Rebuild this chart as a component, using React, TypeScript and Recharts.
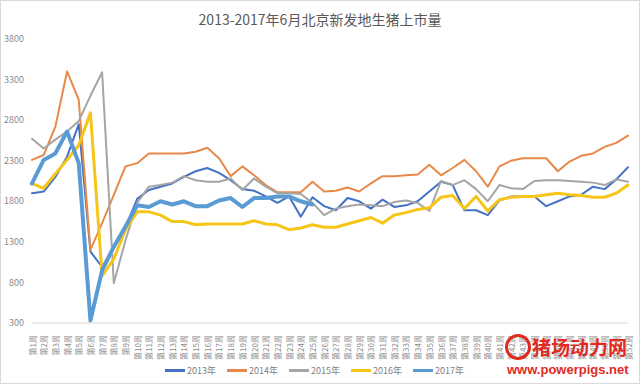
import React from "react";
import { LineChart, Line, XAxis, YAxis, Legend } from "recharts";

const weeks = [
  "第1周", "第2周", "第3周", "第4周", "第5周", "第6周", "第7周", "第8周", "第9周", "第10周",
  "第11周", "第12周", "第13周", "第14周", "第15周", "第16周", "第17周", "第18周", "第19周", "第20周",
  "第21周", "第22周", "第23周", "第24周", "第25周", "第26周", "第27周", "第28周", "第29周", "第30周",
  "第31周", "第32周", "第33周", "第34周", "第35周", "第36周", "第37周", "第38周", "第39周", "第40周",
  "第41周", "第42周", "第43周", "第44周", "第45周", "第46周", "第47周", "第48周", "第49周", "第50周",
  "第51周", "第52周",
];

const yTicks = [300, 800, 1300, 1800, 2300, 2800, 3300, 3800];

const s2013 = [
  1900, 1920, 2100, 2350, 2750, 1180, 990, 1220, 1480, 1830,
  1940, 1980, 2020, 2100, 2170, 2210, 2150, 2060, 1950, 1930,
  1860, 1780, 1860, 1610, 1850, 1740, 1690, 1840, 1800, 1710,
  1820, 1730, 1750, 1800, 1920, 2040, 2000, 1690, 1690, 1630,
  1810, 1860, 1860, 1860, 1740, 1800, 1860, 1880, 1980, 1950,
  2070, 2220,
];

const s2014 = [
  2310, 2370, 2720, 3400, 3050, 1200, 1530, 1880, 2230, 2270,
  2390, 2390, 2390, 2390, 2410, 2460, 2330, 2110, 2230, 2120,
  2000, 1910, 1910, 1910, 2040, 1920, 1930, 1970, 1920, 2020,
  2110, 2110, 2120, 2130, 2250, 2120, 2210, 2310, 2170, 1980,
  2230, 2300, 2330, 2330, 2330, 2170, 2290, 2360, 2390, 2470,
  2520, 2610,
];

const s2015 = [
  2570, 2450, 2560, 2660, 2790, 3100, 3390, 790, 1320, 1780,
  1980, 2000, 2030, 2110, 2060, 2040, 2040, 2080, 1940, 2080,
  1980, 1900, 1900, 1890, 1780, 1630, 1710, 1740, 1760, 1750,
  1740, 1790, 1810, 1780, 1680, 2050, 2000, 2060, 1950, 1800,
  2000, 1960, 1950, 2050, 2060, 2060, 2050, 2040, 2030, 2000,
  2070, 2040,
];

const s2016 = [
  2020, 1960, 2140, 2310, 2490, 2890, 880, 1090, 1450, 1670,
  1670, 1630, 1550, 1550, 1510, 1520, 1520, 1520, 1520, 1560,
  1520, 1510, 1450, 1470, 1510, 1480, 1480, 1520, 1560, 1600,
  1530, 1630, 1660, 1700, 1720, 1850, 1870, 1710, 1860, 1680,
  1820, 1850, 1860, 1860, 1880, 1900, 1880, 1870, 1850, 1850,
  1900, 2000,
];

const s2017 = [
  2020, 2310, 2390, 2660, 2270, 330, 950, 1240, 1490, 1750,
  1730, 1800, 1760, 1800, 1740, 1740, 1810, 1840, 1730, 1840,
  1840, 1860, 1860, 1800, 1760,
];

const series = [
  { key: "y2013", name: "2013年", color: "#4472C4", width: 2 },
  { key: "y2014", name: "2014年", color: "#E8894A", width: 2 },
  { key: "y2015", name: "2015年", color: "#A5A5A5", width: 2 },
  { key: "y2016", name: "2016年", color: "#F5C518", width: 3 },
  { key: "y2017", name: "2017年", color: "#5B9BD5", width: 4 },
];

const data = weeks.map((w, i) => ({
  week: w,
  y2013: s2013[i],
  y2014: s2014[i],
  y2015: s2015[i],
  y2016: s2016[i],
  y2017: s2017[i],
}));

const FONT = '"Noto Sans CJK SC", "Noto Sans", sans-serif';

const WeekTick = (props: any) => {
  const { x, y, payload } = props;
  return (
    <text
      x={x}
      y={y + 4}
      transform={`rotate(-90, ${x}, ${y + 4})`}
      textAnchor="end"
      dominantBaseline="central"
      fontSize={8}
      fill="#8c8c8c"
      fontFamily={FONT}
    >
      {payload.value}
    </text>
  );
};

const LegendBox = () => (
  <div
    style={{
      height: 26,
      display: "flex",
      justifyContent: "center",
      alignItems: "center",
      paddingBottom: 2,
      boxSizing: "border-box",
      fontFamily: FONT,
      fontSize: 9,
      color: "#7f7f7f",
    }}
  >
    {series.map((s) => (
      <div key={s.key} style={{ display: "flex", alignItems: "center", width: 62 }}>
        <span style={{ display: "inline-block", width: 20, height: 3, background: s.color, marginRight: 2 }} />
        <span>{s.name}</span>
      </div>
    ))}
  </div>
);

export default function App() {
  return (
    <div style={{ position: "absolute", left: 0, top: 0, width: 640, height: 384, background: "#fff" }}>
      <div
        style={{
          position: "absolute",
          left: 0,
          top: 0,
          width: 640,
          textAlign: "center",
          marginTop: 9,
          fontFamily: FONT,
          fontSize: 14,
          color: "#595959",
        }}
      >
        2013-2017年6月北京新发地生猪上市量
      </div>
      <LineChart width={640} height={384} data={data} margin={{ top: 39, right: 12, left: 0, bottom: 0 }}>
        <XAxis
          dataKey="week"
          interval={0}
          height={35}
          tickLine={false}
          axisLine={{ stroke: "#d9d9d9" }}
          tick={<WeekTick />}
        />
        <YAxis
          domain={[300, 3800]}
          ticks={yTicks}
          width={32}
          axisLine={false}
          tickLine={false}
          tick={{ fontSize: 9, fill: "#8c8c8c", fontFamily: FONT }}
          tickMargin={2}
        />
        <Legend content={<LegendBox />} verticalAlign="bottom" wrapperStyle={{ left: 0, width: 640 }} />
        {series.map((s) => (
          <Line
            key={s.key}
            type="linear"
            dataKey={s.key}
            name={s.name}
            stroke={s.color}
            strokeWidth={s.width}
            dot={false}
            strokeLinejoin="round"
            strokeLinecap="round"
            isAnimationActive={false}
          />
        ))}
      </LineChart>
      <div
        style={{
          position: "absolute",
          left: 505,
          top: 334,
          width: 26,
          height: 26,
          borderRadius: "50%",
          border: "3px solid #e02a1f",
          boxSizing: "border-box",
        }}
      />
      <div
        style={{
          position: "absolute",
          left: 532,
          top: 334,
          fontFamily: FONT,
          fontWeight: 700,
          fontSize: 19,
          lineHeight: "26px",
          color: "#e02a1f",
        }}
      >
        猪场动力网
      </div>
      <div
        style={{
          position: "absolute",
          left: 507,
          top: 362,
          fontFamily: '"Liberation Sans", Arial, sans-serif',
          fontWeight: 700,
          fontSize: 13,
          lineHeight: "16px",
          color: "#e02a1f",
        }}
      >
        www.powerpigs.net
      </div>
      <div
        style={{
          position: "absolute",
          left: 0,
          top: 0,
          width: 640,
          height: 384,
          border: "1px solid #d9d9d9",
          boxSizing: "border-box",
          pointerEvents: "none",
        }}
      />
    </div>
  );
}
